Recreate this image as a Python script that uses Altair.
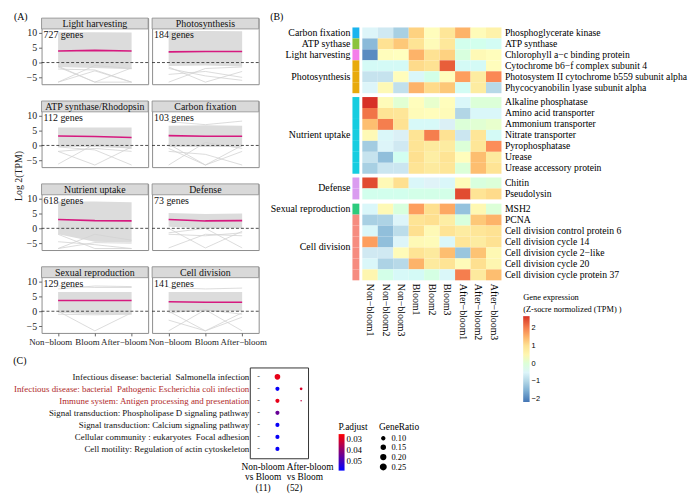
import altair as alt
import pandas as pd

FONT = "Liberation Serif"
SANS = "Liberation Sans"

# ---------------- Panel A data ----------------
stages = ["Non−bloom", "Bloom", "After−bloom"]
categories = ["Light harvesting", "Photosynthesis", "ATP synthase/Rhodopsin", "Carbon fixation",
              "Nutrient uptake", "Defense", "Sexual reproduction", "Cell division"]
gene_counts = [727, 184, 112, 103, 618, 73, 129, 141]
mean_log2 = [[3.9, 4.1, 3.9], [3.6, 3.7, 3.7], [3.2, 3.0, 2.7], [3.3, 3.1, 3.1],
             [3.0, 2.6, 2.5], [3.0, 2.5, 2.6], [3.6, 3.6, 3.6], [3.2, 3.0, 3.0]]
band_high = [[10.2, 10.2, 10.1], [10.5, 10.6, 10.5], [6.0, 6.0, 6.0], [6.6, 6.8, 6.6],
             [9.0, 9.0, 8.8], [5.2, 4.8, 5.0], [6.5, 6.5, 6.5], [6.5, 6.5, 6.5]]
band_low = [[-1.5, -1.8, -2.3], [-1.2, -1.0, -1.3], [-0.5, -0.5, -1.0], [-0.5, -0.5, -0.5],
            [-2.0, -4.5, -4.8], [0.5, 0.0, 0.0], [-0.5, -1.0, -1.0], [0.0, 0.0, 0.0]]
outlier_lines = [
    [[-6.6, -1.0, -2.0], [-1.2, -6.6, -1.8], [-2.2, -2.5, -6.6], [-1.5, -6.6, -6.6], [-6.6, -2.8, -6.6]],
    [[-6.6, -2.0, -1.5], [-2.0, -4.5, -6.0], [-1.5, -6.6, -3.0], [-4.0, -3.0, -5.0]],
    [[-6.3, 0.5, -1.0], [-2.0, -6.6, -0.5], [-0.5, -1.5, -6.6], [-2.0, -1.0, -2.0]],
    [[-6.6, 1.0, -1.0], [-1.0, -6.6, -2.0], [-2.0, -3.0, -6.6], [0.5, -6.6, 0.0], [8.0, 7.0, 8.2]],
    [[-6.8, -4.8, -5.0], [-2.0, -6.8, -6.8], [-6.8, -2.0, -4.0], [-4.5, -5.5, -6.8]],
    [[-6.6, -2.0, -2.5], [0.0, -6.6, -1.0], [-1.5, 0.0, -6.6], [-2.0, -2.5, -1.5]],
    [[0.0, -6.6, -0.5], [-1.0, -1.2, -1.0], [8.5, 8.0, 8.0], [7.5, 8.5, 8.3]],
    [[-6.6, 0.5, -1.0], [0.0, -6.6, -0.5], [-0.5, 0.5, -6.6], [-3.0, -6.6, -2.0], [8.0, 7.5, 7.8]],
]

# ---------------- Panel B data ----------------
samples = ["Non−bloom1", "Non−bloom2", "Non−bloom3", "Bloom1", "Bloom2", "Bloom3",
           "After−bloom1", "After−bloom2", "After−bloom3"]
heat_genes = ["Phosphoglycerate kinase", "ATP synthase", "Chlorophyll a−c binding protein",
              "Cytochrome b6−f complex subunit 4", "Photosystem II cytochrome b559 subunit alpha",
              "Phycocyanobilin lyase subunit alpha",
              "Alkaline phosphatase", "Amino acid transporter", "Ammonium transporter",
              "Nitrate transporter", "Pyrophosphatase", "Urease", "Urease accessory protein",
              "Chitin", "Pseudolysin",
              "MSH2", "PCNA", "Cell division control protein 6", "Cell division cycle 14",
              "Cell division cycle 2−like", "Cell division cycle 20", "Cell division cycle protein 37"]
heat_groups = (["Carbon fixation", "ATP sythase", "Light harvesting"] + ["Photosynthesis"] * 3
               + ["Nutrient uptake"] * 7 + ["Defense"] * 2
               + ["Sexual reproduction"] + ["Cell division"] * 6)
heat_block = [0] * 6 + [1] * 7 + [2] * 2 + [3] * 7
group_colors = {"Carbon fixation": "#1AB4EE", "ATP sythase": "#8CC43C", "Light harvesting": "#F47EEA",
                "Photosynthesis": "#E8AA0C", "Nutrient uptake": "#16CDE0", "Defense": "#DA9CF0",
                "Sexual reproduction": "#2CCB7C", "Cell division": "#F68C80"}
heat_z = [
    [-0.5, -0.7, -1.1, 1.2, 0.3, 0.9, 1.5, 0.35, 0.6],
    [-1.4, 1.0, 1.3, 0.95, 0.35, 0.85, -0.2, -0.2, -0.3],
    [-1.9, 0.3, 0.25, 1.5, 1.0, 1.2, -0.05, 0.4, 0.3],
    [-0.35, -0.35, -0.35, 1.1, 1.0, 2.3, -0.35, -0.35, 0.3],
    [-0.8, -0.8, 0.3, -0.45, -0.15, 0.3, 1.7, 0.75, 1.9],
    [-0.5, 0.4, -0.85, 1.5, 1.1, 1.3, -0.3, 0.75, -0.95],
    [2.65, 0.35, 0.05, 0.3, 0.1, 0.3, -0.45, 0.0, 0.0],
    [2.1, 0.95, 0.9, 0.35, 0.3, 0.35, -1.0, -0.45, -0.45],
    [1.4, 2.0, 1.0, -0.4, -0.4, -0.6, 0.0, 0.05, 0.1],
    [0.4, -0.45, -0.6, 0.95, 2.0, 1.0, -0.75, 0.9, -0.35],
    [-1.15, -0.5, -0.7, 0.95, 0.8, 0.75, 0.0, 0.9, 1.85],
    [-0.8, -1.35, -0.25, 1.05, 0.7, 0.95, 0.3, 1.4, 0.8],
    [-1.1, -0.75, -0.75, 0.95, 0.8, 0.9, 0.0, 1.4, 0.95],
    [2.45, 0.4, 1.05, -0.45, -0.55, -0.45, 0.35, -0.05, 0.0],
    [-0.2, -0.2, -0.2, -0.15, -0.15, -0.15, 2.45, 0.95, 1.1],
    [-0.45, 0.4, -0.05, 1.7, 1.05, 1.6, -1.3, 0.45, 0.0],
    [-1.1, -1.05, -0.5, 0.95, 1.05, 0.7, -0.05, 1.3, 1.5],
    [-0.45, -1.35, -0.9, 1.05, 0.4, 0.95, 0.75, 0.9, 1.0],
    [1.7, -1.35, -0.5, 0.4, 0.35, -0.45, 0.9, 0.75, 1.0],
    [-0.7, -0.7, 0.35, 0.95, 0.8, 1.4, -1.25, 1.35, 0.45],
    [-0.45, -1.05, -0.95, 1.5, 0.8, 0.95, 0.35, 1.05, 0.5],
    [0.5, -0.15, -0.4, -0.35, -0.1, -0.45, 2.0, 0.8, 1.4],
]
heat_stops = [-2.15, -1.35, -0.55, 0.25, 1.05, 1.85, 2.65]
heat_colors = ["#4575B4", "#91BFDB", "#E0F3F8", "#FFFFBF", "#FEE090", "#FC8D59", "#D73027"]

# ---------------- Panel C data ----------------
pathways = ["Infectious disease: bacterial\u00a0 Salmonella infection",
            "Infectious disease: bacterial\u00a0 Pathogenic Escherichia coli infection",
            "Immune system: Antigen processing and presentation",
            "Signal transduction: Phospholipase D signaling pathway",
            "Signal transduction: Calcium signaling pathway",
            "Cellular community : eukaryotes\u00a0 Focal adhesion",
            "Cell motility: Regulation of actin cytoskeleton"]
highlighted = [pathways[1], pathways[2]]
comparisons = ["Non-bloom|vs Bloom|(11)",
               "After-bloom|\u00a0\u00a0vs Bloom|\u00a0\u00a0\u00a0\u00a0\u00a0\u00a0(52)"]
c_pathway = pathways + [pathways[1], pathways[2]]
c_comparison = [comparisons[0]] * 7 + [comparisons[1]] * 2
c_padj = [0.029, 0.057, 0.029, 0.045, 0.057, 0.057, 0.057, 0.031, 0.034]
c_ratio = [0.26, 0.16, 0.16, 0.16, 0.16, 0.16, 0.16, 0.09, 0.055]


def spacer(h=1):
    # invisible 1px layout anchor (keeps every row's origin at the left edge)
    return alt.Chart(pd.DataFrame({"s": [0]})).mark_rect(opacity=0).encode(
        x=alt.value(0), x2=alt.value(1), y=alt.value(0), y2=alt.value(h)).properties(
        width=1, height=h, view=alt.ViewBackground(stroke="transparent"))


# ================= Panel A =================
W_A, H_A, STRIP = 108, 67, 11
Y_DOM = [-7.3, 14.96]
MEAN_COLOR = "#D6197F"
BAND_GRAY = "#DCDCDC"


def make_panel(i):
    row, col = divmod(i, 2)
    order_idx = [0, 1, 2]
    band_df = pd.DataFrame({"stage": stages, "lo": band_low[i], "hi": band_high[i]})
    mean_df = pd.DataFrame({"stage": stages, "o": order_idx, "v": mean_log2[i]})
    ol_df = pd.DataFrame([{"line": k, "stage": s, "o": j, "v": v}
                          for k, tr in enumerate(outlier_lines[i])
                          for j, (s, v) in enumerate(zip(stages, tr))])
    info_df = pd.DataFrame({"cat": [categories[i]], "label": [f"{gene_counts[i]} genes"], "zero": [0]})

    xscale = alt.Scale(type="point", domain=stages, padding=0.45)
    yscale = alt.Scale(domain=Y_DOM, nice=False, zero=False)
    if row == 3:
        xaxis = alt.Axis(title=None, labelAngle=0, labelFontSize=9, labelFont=FONT, labelColor="#222",
                         tickSize=3, tickColor="#666", domain=False, labelPadding=2, labelOverlap=False,
                         labelOffset=-8 if col == 0 else 1)
    else:
        xaxis = None
    if col == 0:
        kw = dict(values=[-5, 0, 5, 10], grid=False, tickSize=3, tickColor="#666", domain=False,
                  labelFontSize=10, labelFont=FONT, labelColor="#222", labelPadding=2)
        if i == 2:
            yaxis = alt.Axis(title="Log 2(TPM)", titleFont=FONT, titleFontSize=10, titleFontWeight="normal",
                             titleX=-23, titleY=75.5, titleAngle=270, titleAlign="center",
                             titleBaseline="middle", titleColor="#222", **kw)
        else:
            yaxis = alt.Axis(title=None, **kw)
    else:
        yaxis = None

    X = alt.X("stage:N", scale=xscale, axis=xaxis)
    band = alt.Chart(band_df).mark_area(color=BAND_GRAY, opacity=1, interpolate="linear").encode(
        x=X, y=alt.Y("hi:Q", scale=yscale, axis=yaxis), y2=alt.Y2("lo"))
    outl = alt.Chart(ol_df).mark_line(color="#D2D2D2", strokeWidth=0.8).encode(
        x=X, y=alt.Y("v:Q", scale=yscale, axis=yaxis), detail="line:N", order="o:Q")
    zero = alt.Chart(info_df).mark_rule(color="#222", strokeDash=[3, 2], strokeWidth=0.8).encode(
        y=alt.Y("zero:Q", scale=yscale, axis=yaxis))
    mean = alt.Chart(mean_df).mark_line(color=MEAN_COLOR, strokeWidth=1.6).encode(
        x=X, y=alt.Y("v:Q", scale=yscale, axis=yaxis), order="o:Q")
    strip = alt.Chart(info_df).mark_rect(fill="#D9D9D9", stroke="#8C8C8C", strokeWidth=0.8).encode(
        x=alt.value(0), x2=alt.value(W_A), y=alt.value(0), y2=alt.value(STRIP))
    strip_txt = alt.Chart(info_df).mark_text(font=FONT, fontSize=10, baseline="middle", color="#111").encode(
        x=alt.value(W_A / 2), y=alt.value(STRIP / 2 + 0.5), text="cat:N")
    count_txt = alt.Chart(info_df).mark_text(font=FONT, fontSize=10, align="left", baseline="top",
                                             color="#111").encode(
        x=alt.value(2), y=alt.value(STRIP + 1.5), text="label:N")
    ch = alt.layer(band, outl, zero, mean, strip, strip_txt, count_txt).properties(width=W_A, height=H_A)
    if i == 0:
        ch = ch.properties(title=alt.TitleParams("(A)", anchor="start", frame="group", dx=-28, offset=-4,
                                                 fontSize=10, font=FONT, fontWeight="normal"))
    return ch


A_grid = alt.concat(*[make_panel(i) for i in range(8)], columns=2, bounds="flush",
                    spacing={"row": 17, "column": 4})

# ================= Panel B =================
HEAT_W, ROW_H = 141, 11.1
heat_scale = alt.Scale(domain=heat_stops, range=heat_colors)
heat_legend = alt.Legend(orient="none", legendX=521, legendY=279,
                         title=["Gene expression", "(Z-socre normolized (TPM) )"],
                         titleFont=FONT, titleFontSize=8.5, titleFontWeight="normal", titleLineHeight=11.5,
                         titlePadding=3, gradientLength=87, gradientThickness=6.5, labelFont=SANS,
                         labelFontSize=7.5, values=[-2, -1, 0, 1, 2], direction="vertical",
                         gradientStrokeWidth=0)


def make_block(b):
    rows = [k for k in range(len(heat_genes)) if heat_block[k] == b]
    genes_b = [heat_genes[k] for k in rows]
    cells = pd.DataFrame([{"gene": heat_genes[k], "sample": s, "z": heat_z[k][j]}
                          for k in rows for j, s in enumerate(samples)])
    seen = []
    for k in rows:
        if heat_groups[k] not in seen:
            seen.append(heat_groups[k])
    lab_mid, lab_edge = [], []
    for g in seen:
        members = [heat_genes[k] for k in rows if heat_groups[k] == g]
        n = len(members)
        entry = {"gene": members[(n - 1) // 2], "group": g}
        (lab_mid if n % 2 else lab_edge).append(entry)

    yscale = alt.Scale(domain=genes_b, paddingInner=0, paddingOuter=0)
    yax = alt.Axis(orient="right", title=None, ticks=False, domain=False, labelPadding=3, labelFont=FONT,
                   labelFontSize=9.8, labelColor="black", labelLimit=400)
    Y = alt.Y("gene:N", scale=yscale, axis=yax)
    xscale = alt.Scale(domain=samples, paddingInner=0, paddingOuter=0)
    if b == 3:
        xax = alt.Axis(orient="bottom", title=None, labelAngle=90, ticks=False, domain=False, labelPadding=3,
                       labelFont=FONT, labelFontSize=10, labelColor="black")
    else:
        xax = None
    heat = alt.Chart(cells).mark_rect().encode(
        x=alt.X("sample:N", scale=xscale, axis=xax), y=Y,
        fill=alt.Fill("z:Q", scale=heat_scale, legend=heat_legend))
    layers = [heat]
    for g in seen:
        gdf = pd.DataFrame({"gene": [heat_genes[k] for k in rows if heat_groups[k] == g]})
        layers.append(alt.Chart(gdf).mark_rect(fill=group_colors[g]).encode(
            x=alt.value(-10), x2=alt.value(-3), y=Y))
    if lab_mid:
        layers.append(alt.Chart(pd.DataFrame(lab_mid)).mark_text(
            align="right", baseline="middle", font=FONT, fontSize=10, color="black").encode(
            x=alt.value(-12), y=Y, text="group:N"))
    if lab_edge:
        layers.append(alt.Chart(pd.DataFrame(lab_edge)).mark_text(
            align="right", baseline="middle", font=FONT, fontSize=10, color="black",
            dy=ROW_H / 2).encode(
            x=alt.value(-12), y=Y, text="group:N"))
    return alt.layer(*layers).properties(width=HEAT_W, height=ROW_H * len(rows),
                                         view=alt.ViewBackground(stroke="transparent"))


B = alt.vconcat(spacer(5.5), *[make_block(b) for b in range(4)], spacing=3.5, bounds="flush",
                title=alt.TitleParams("(B)", anchor="start", fontSize=10, font=FONT, fontWeight="normal",
                                      offset=-4))

# ================= Panel C =================
c_df = pd.DataFrame({"pathway": c_pathway, "comparison": c_comparison, "padj": c_padj, "ratio": c_ratio})
cx_scale = alt.Scale(type="point", domain=comparisons, padding=0.729, align=0.8)
cy_scale = alt.Scale(type="point", domain=pathways, padding=0.78)
cx_axis = alt.Axis(title=None, labelExpr="split(datum.label, '|')", labelAngle=0, labelFont=FONT,
                   labelFontSize=9.5, labelColor="black", labelLineHeight=11, ticks=False, domain=False,
                   labelOverlap=False, labelPadding=3, labelOffset=-15,
                   labelAlign={"condition": {"test": f"datum.value === '{comparisons[0]}'", "value": "center"},
                               "value": "left"})
test_hl = " || ".join([f"datum.value === '{p}'" for p in highlighted])
cy_axis = alt.Axis(title=None, labelFont=FONT, labelFontSize=9, ticks=False, domain=False, labelPadding=1,
                   labelLimit=400, grid=False,
                   labelColor={"condition": {"test": test_hl, "value": "#B02A2A"}, "value": "#111"})
dots = alt.Chart(c_df).mark_circle(opacity=1).encode(
    x=alt.X("comparison:N", scale=cx_scale, axis=cx_axis),
    y=alt.Y("pathway:N", scale=cy_scale, axis=cy_axis),
    color=alt.Color("padj:Q", scale=alt.Scale(domain=[0.058, 0.026], range=["#0000FF", "#FF0000"],
                                              interpolate="rgb"),
                    legend=alt.Legend(orient="none", legendX=334, legendY=409, title="P.adjust",
                                      titleFont=FONT, titleFontSize=9.5, titleFontWeight="normal",
                                      gradientLength=37, gradientThickness=6, labelFont=FONT, labelFontSize=9,
                                      values=[0.03, 0.04, 0.05], format=".2f", titlePadding=3,
                                      gradientStrokeWidth=0)),
    size=alt.Size("ratio:Q", scale=alt.Scale(domain=[0.05, 0.30], range=[1.5, 38], zero=False),
                  legend=alt.Legend(orient="none", legendX=375, legendY=409, title="GeneRatio",
                                    titleFont=FONT, titleFontSize=9.5, titleFontWeight="normal",
                                    values=[0.10, 0.15, 0.20, 0.25], format=".2f", labelFont=FONT,
                                    labelFontSize=8.5, symbolFillColor="black", symbolStrokeColor="black",
                                    symbolType="circle", rowPadding=-2, titlePadding=3)),
)
dash = alt.Chart(pd.DataFrame({"pathway": pathways})).mark_text(
    text="-", fontSize=8, color="#444", font=FONT).encode(
    x=alt.value(9), y=alt.Y("pathway:N", scale=cy_scale, axis=cy_axis))
C = alt.layer(dash, dots).properties(
    width=59, height=92,
    title=alt.TitleParams("(C)", anchor="start", fontSize=10, font=FONT, fontWeight="normal", offset=2),
    view=alt.ViewBackground(stroke="#333333", strokeWidth=1))

# ================= Assemble =================
row1 = alt.concat(spacer(), A_grid, B, columns=3, align="none", spacing=2)
row2 = alt.concat(spacer(), C, columns=2, align="none", spacing=1)
chart = alt.concat(row1, row2, columns=1, align="none", spacing=7).properties(padding=0).configure(
    font=FONT).configure_view(stroke="#8C8C8C", strokeWidth=1)

chart.save("out.html", embed_options={"renderer": "svg", "actions": False})
